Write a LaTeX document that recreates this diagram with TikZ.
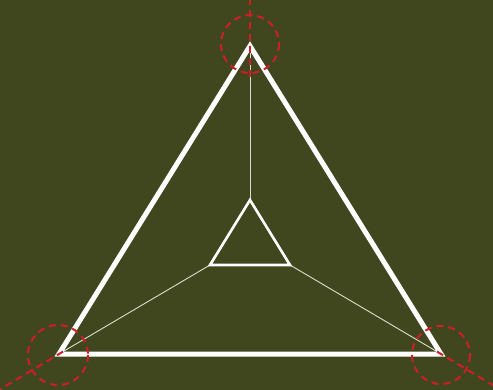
\documentclass[tikz,border=0pt]{standalone}
\usetikzlibrary{calc}
\definecolor{bg}{RGB}{64,71,30}
\definecolor{reddash}{RGB}{208,30,40}
\definecolor{thinline}{RGB}{220,222,205}
\begin{document}
\begin{tikzpicture}[x=1pt,y=-1pt,
  outer/.style={draw=white,line width=5pt,line join=miter},
  inner/.style={draw=white,line width=2.6pt,line join=miter},
  spoke/.style={draw=thinline,line width=0.9pt},
  redmark/.style={draw=reddash,line width=2pt,dash pattern=on 7pt off 5pt},
]
\fill[bg] (0,0) rectangle (493,390);
\useasboundingbox (0,0) rectangle (493,390);
\clip (0,0) rectangle (493,390);
% outer vertices
\coordinate (A) at (250,46);
\coordinate (B) at (59,354);
\coordinate (C) at (441,354);
% inner vertices
\coordinate (a) at (250,200);
\coordinate (b) at (210,265);
\coordinate (c) at (290,265);
% spokes
\draw[spoke] (A) -- (a);
\draw[spoke] (B) -- (b);
\draw[spoke] (C) -- (c);
% triangles
\draw[outer] (A) -- (B) -- (C) -- cycle;
\draw[inner] (a) -- (b) -- (c) -- cycle;
% red marks
\draw[redmark] (250,44) circle[radius=29];
\draw[redmark] (58,355) circle[radius=30];
\draw[redmark] (441,355) circle[radius=29];
\coordinate (At) at (250,-10);
\coordinate (Ab) at (250,77);
\draw[redmark] (Ab) -- (At);
\coordinate (Bi) at ($(B)+(4,-2.4)$);
\coordinate (Bo) at ($(B)+(-90,54)$);
\draw[redmark] (Bi) -- (Bo);
\coordinate (Ci) at ($(C)+(-4,-2.4)$);
\coordinate (Co) at ($(C)+(90,54)$);
\draw[redmark] (Ci) -- (Co);
\end{tikzpicture}
\end{document}
